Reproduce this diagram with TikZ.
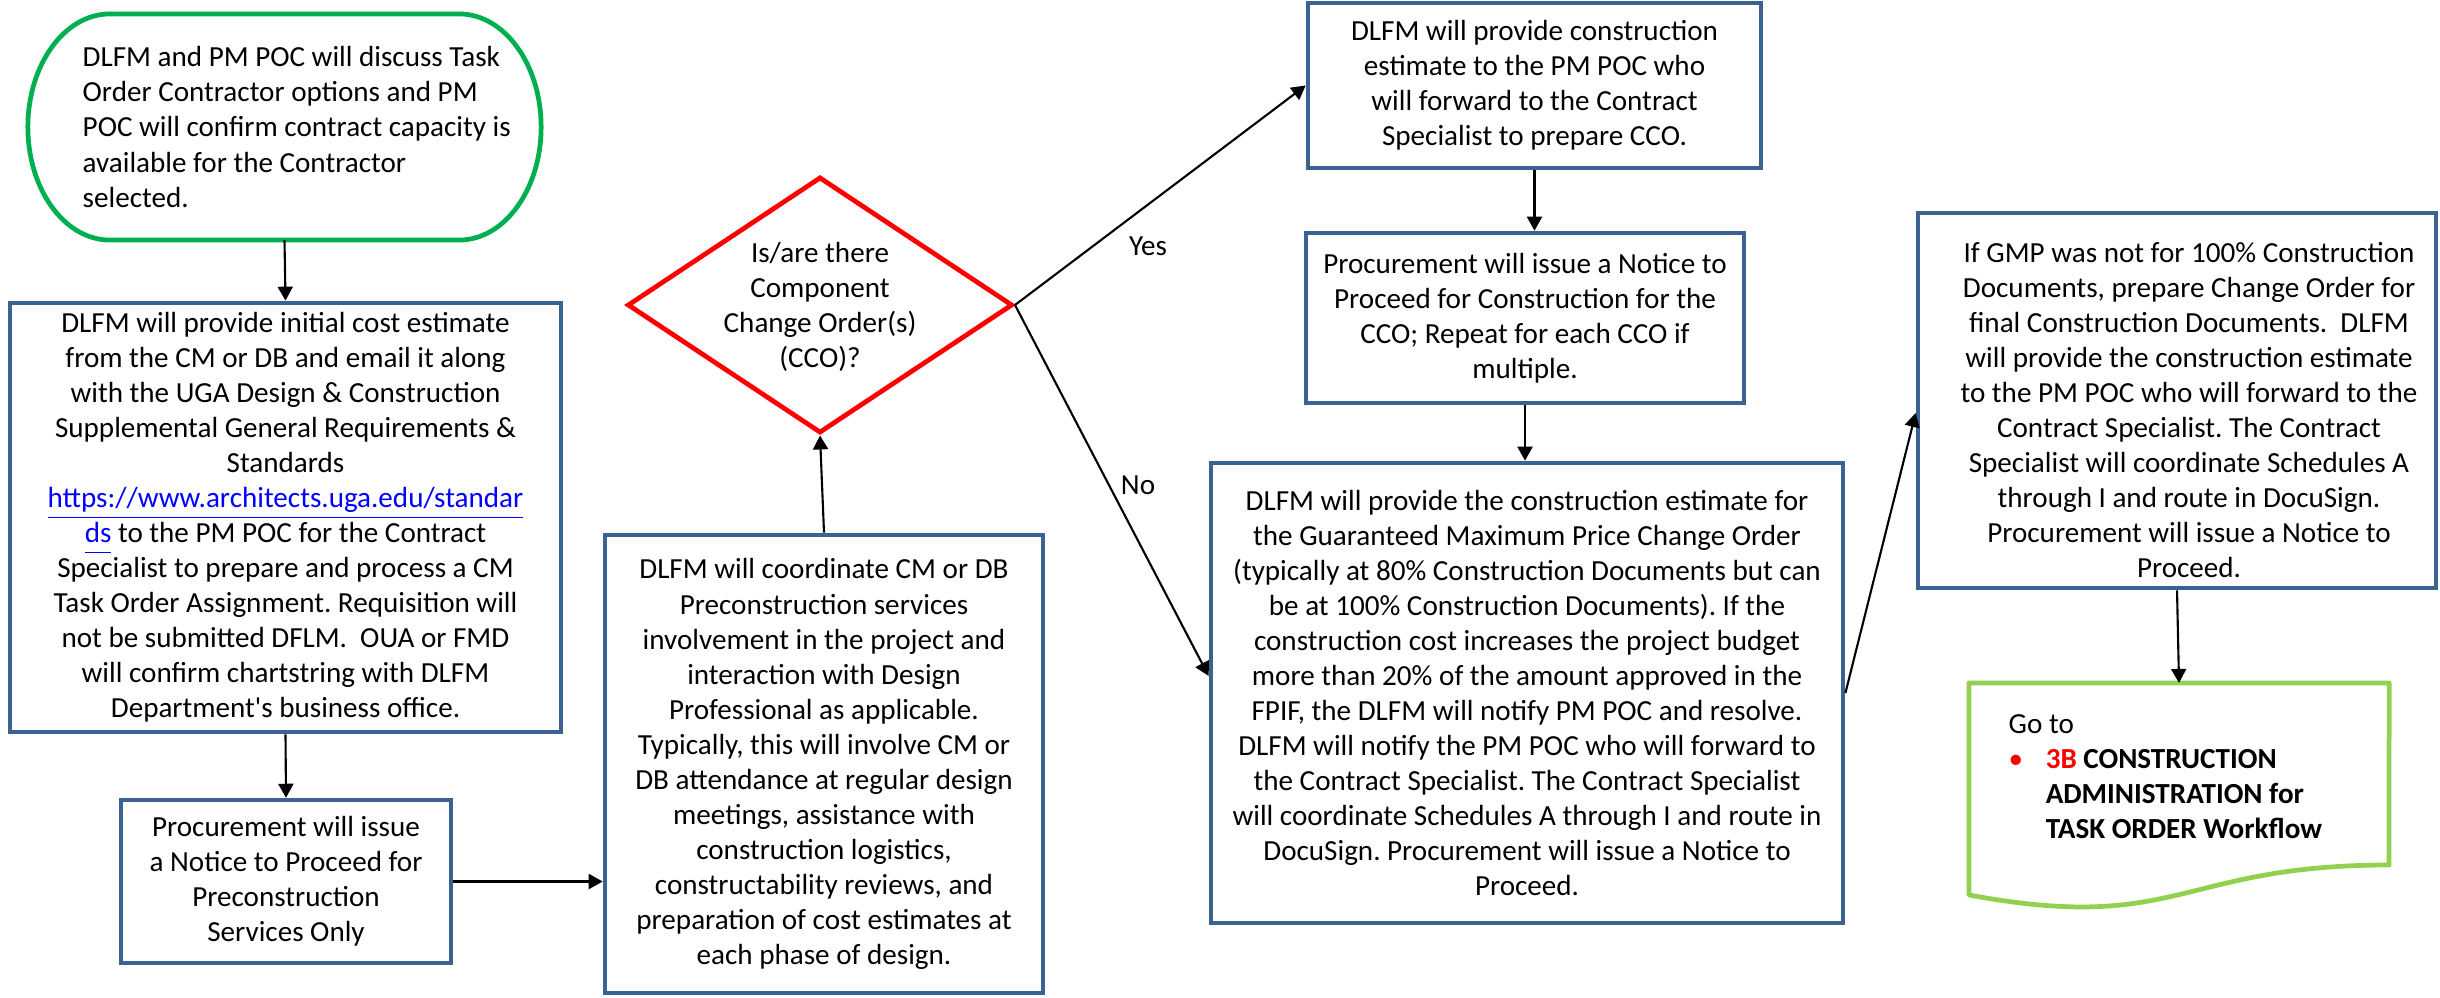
\documentclass[tikz,border=0pt]{standalone}
\usepackage{fontspec}
\setmainfont{Carlito}
\usetikzlibrary{shapes.geometric,arrows.meta}
\definecolor{boxblue}{HTML}{3C6292}
\definecolor{termgreen}{HTML}{00B050}
\definecolor{docgreen}{HTML}{92D050}
\definecolor{linkblue}{HTML}{0000FF}
\newcommand{\weblink}[1]{\textcolor{linkblue}{\underline{#1\vphantom{p}}}}
\begin{document}
\begin{tikzpicture}[x=0.01cm, y=-0.01cm,
  font=\fontsize{8.28pt}{9.96pt}\selectfont\frenchspacing,
  procbox/.style={draw=boxblue, line width=1.25pt, align=center, inner sep=0pt},
  plain/.style={inner sep=0pt, align=center},
  flowarrow/.style={-{Triangle[length=0.14cm,width=0.15cm]}, line width=0.6pt},
  termline/.style={draw=termgreen, line width=1.35pt},
  docline/.style={draw=docgreen, line width=1.35pt, line join=round}]

\fill[white] (0,0) rectangle (2440,997);
\useasboundingbox (0,0) rectangle (2440,997);

% start terminator
\node[minimum width=5.13cm, minimum height=2.26cm, inner sep=0pt, outer sep=0pt] (start) at (284.5,127) {};
\draw[termline] ([xshift=0.82cm]start.north west) -- ([xshift=-0.82cm]start.north east)
  arc[start angle=90, end angle=-90, x radius=0.82cm, y radius=1.13cm]
  -- ([xshift=0.82cm]start.south west)
  arc[start angle=270, end angle=90, x radius=0.82cm, y radius=1.13cm] -- cycle;
\node[plain, align=left, anchor=west] (starttext) at (82,127)
  {DLFM and PM POC will discuss Task\\Order Contractor options and PM\\POC will confirm contract capacity is\\available for the Contractor\\selected.};

% process boxes, left column
\node[procbox, minimum width=5.51cm, minimum height=4.29cm] (costest) at (285.5,517.5)
  {DLFM will provide initial cost estimate\\from the CM or DB and email it along\\with the UGA Design \& Construction\\Supplemental General Requirements \&\\Standards\\\weblink{https://www.architects.uga.edu/standar}\\\weblink{ds} to the PM POC for the Contract\\Specialist to prepare and process a CM\\Task Order Assignment. Requisition will\\not be submitted DFLM.\ \ OUA or FMD\\will confirm chartstring with DLFM\\Department\textquotesingle s business office.};

\node[procbox, minimum width=3.3cm, minimum height=1.63cm] (ntp) at (286,881.5)
  {Procurement will issue\\a Notice to Proceed for\\Preconstruction\\Services Only};

\node[procbox, minimum width=4.38cm, minimum height=4.58cm] (precon) at (824,764)
  {DLFM will coordinate CM or DB\\Preconstruction services\\involvement in the project and\\interaction with Design\\Professional as applicable.\\Typically, this will involve CM or\\DB attendance at regular design\\meetings, assistance with\\construction logistics,\\constructability reviews, and\\preparation of cost estimates at\\each phase of design.};

% decision
\node[diamond, draw=red, line width=1.35pt, minimum width=3.85cm, minimum height=2.56cm, inner sep=0pt] (cco) at (820,305) {};
\node[plain] (ccotext) at (820,307) {Is/are there\\Component\\Change Order(s)\\(CCO)?};

% right part
\node[procbox, minimum width=4.53cm, minimum height=1.65cm] (estcco) at (1534.5,85.5)
  {DLFM will provide construction\\estimate to the PM POC who\\will forward to the Contract\\Specialist to prepare CCO.};

\node[procbox, minimum width=4.38cm, minimum height=1.70cm] (ntpcco) at (1525,318)
  {Procurement will issue a Notice to\\Proceed for Construction for the\\CCO; Repeat for each CCO if\\multiple.};

\node[procbox, minimum width=6.32cm, minimum height=4.60cm] (gmp) at (1527,693)
  {DLFM will provide the construction estimate for\\the Guaranteed Maximum Price Change Order\\(typically at 80\% Construction Documents but can\\be at 100\% Construction Documents). If the\\construction cost increases the project budget\\more than 20\% of the amount approved in the\\FPIF, the DLFM will notify PM POC and resolve.\\DLFM will notify the PM POC who will forward to\\the Contract Specialist. The Contract Specialist\\will coordinate Schedules A through I and route in\\DocuSign. Procurement will issue a Notice to\\Proceed.};

\node[procbox, minimum width=5.18cm, minimum height=3.75cm] (finalco) at (2177,400.5) {};
\node[plain] (finalcotext) at (2189,410)
  {If GMP was not for 100\% Construction\\Documents, prepare Change Order for\\final Construction Documents.\ \ DLFM\\will provide the construction estimate\\to the PM POC who will forward to the\\Contract Specialist. The Contract\\Specialist will coordinate Schedules A\\through I and route in DocuSign.\\Procurement will issue a Notice to\\Proceed.};

% off-page document
\node[minimum width=4.2cm, minimum height=2.27cm, inner sep=0pt, outer sep=0pt] (goto) at (2179,796.5) {};
\draw[docline] (goto.north west) -- (goto.north east) -- (2389,865)
  .. controls (2179,865) and (2179,934) .. (1969,895) -- cycle;
\node[plain, align=left, anchor=north west] (gototext) at (2008,714)
  {Go to\\\makebox[0.37cm][l]{\textcolor{red}{\textbullet}}\textbf{\textcolor{red}{3B} CONSTRUCTION}\\\hspace*{0.37cm}\textbf{ADMINISTRATION for}\\\hspace*{0.37cm}\textbf{TASK ORDER Workflow}};

% connectors
\draw[flowarrow] (start.south) -- (costest.north);
\draw[flowarrow] (costest.south) -- (ntp.north);
\draw[flowarrow] (ntp.east) -- (ntp.east -| precon.west);
\draw[flowarrow] (precon.north) -- (cco.south);
\draw[flowarrow] (cco.east) -- (estcco.west);
\draw[flowarrow] (cco.east) -- ([yshift=0.17cm]gmp.west);
\draw[flowarrow] (estcco.south) -- (estcco.south |- ntpcco.north);
\draw[flowarrow] (ntpcco.south) -- (ntpcco.south |- gmp.north);
\draw[flowarrow] (gmp.east) -- ([yshift=-0.125cm]finalco.west);
\draw[flowarrow] (finalco.south) -- (goto.north);

\node (yeslabel) at (1148,246) {Yes};
\node (nolabel) at (1138,485) {No};
\end{tikzpicture}
\end{document}
